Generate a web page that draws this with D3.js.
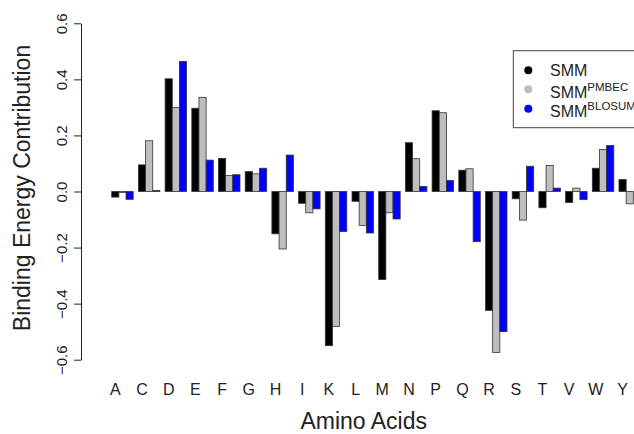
<!DOCTYPE html>
<html>
<head>
<meta charset="utf-8">
<script src="https://cdn.jsdelivr.net/npm/d3@7"></script>
<style>
  body { margin: 0; background: #fff; }
  svg { display: block; font-family: "Liberation Sans", Arial, sans-serif; }
</style>
</head>
<body>
<svg width="634" height="434"></svg>
<script>
// amino acids and the three model estimates
var aminoAcids = ["A", "C", "D", "E", "F", "G", "H", "I", "K", "L", "M", "N", "P", "Q", "R", "S", "T", "V", "W", "Y"];
var smm    = [-0.020, 0.095, 0.402, 0.297, 0.118, 0.071, -0.151, -0.042, -0.550, -0.035, -0.314, 0.174, 0.288, 0.076, -0.424, -0.026, -0.058, -0.039, 0.083, 0.043];
var pmbec  = [-0.004, 0.181, 0.300, 0.336, 0.057, 0.063, -0.205, -0.076, -0.481, -0.121, -0.076, 0.117, 0.281, 0.081, -0.574, -0.102, 0.093, 0.012, 0.150, -0.044];
var blosum = [-0.028, 0.004, 0.464, 0.112, 0.060, 0.083, 0.130, -0.062, -0.143, -0.148, -0.098, 0.018, 0.039, -0.179, -0.500, 0.090, 0.012, -0.029, 0.164, 0.000];
var seriesNames = ["SMM", "PMBEC", "BLOSUM"];
var seriesColors = ["#000000", "#bebebe", "#0000ff"];
var yTicks = [-0.6, -0.4, -0.2, 0.0, 0.2, 0.4, 0.6];

var series = [smm, pmbec, blosum];
var svg = d3.select("svg");

var step = 26.7;
var x0 = d3.scaleBand()
    .domain(aminoAcids)
    .range([111.7, 111.7 + aminoAcids.length * step - 0.195 * step])
    .paddingInner(0.195)
    .paddingOuter(0);

var x1 = d3.scaleBand()
    .domain(d3.range(series.length))
    .range([0, x0.bandwidth()]);

var y = d3.scaleLinear().domain([-0.6, 0.6]).range([359.7, 23.3]);

// bars
var groups = svg.append("g").selectAll("g")
    .data(aminoAcids)
    .enter().append("g")
    .attr("transform", function(d) { return "translate(" + x0(d) + ",0)"; });

groups.selectAll("rect")
    .data(function(d, i) {
        return series.map(function(s, j) { return { k: j, v: s[i] }; });
    })
    .enter().append("rect")
    .attr("x", function(d) { return x1(d.k); })
    .attr("width", x1.bandwidth())
    .attr("y", function(d) { return Math.min(y(d.v), y(0)); })
    .attr("height", function(d) { return Math.abs(y(d.v) - y(0)); })
    .attr("fill", function(d) { return seriesColors[d.k]; })
    .attr("stroke", "#333")
    .attr("stroke-width", 0.8);

// x labels under the first bar of each group
svg.append("g").selectAll("text")
    .data(aminoAcids)
    .enter().append("text")
    .attr("x", function(d) { return x0(d) + x1(0) + x1.bandwidth() / 2; })
    .attr("y", 395)
    .attr("text-anchor", "middle")
    .attr("font-size", 16)
    .attr("fill", "#222")
    .text(function(d) { return d; });

// y axis
var yAxis = svg.append("g")
    .attr("transform", "translate(81,0)")
    .call(d3.axisLeft(y).tickValues(yTicks).tickSize(7).tickSizeOuter(0).tickFormat(d3.format(".1f")));

yAxis.attr("font-size", 15).attr("font-family", null);
yAxis.select(".domain").attr("stroke", "#222");
yAxis.selectAll(".tick line").attr("stroke", "#222");
yAxis.selectAll(".tick text")
    .attr("x", 0).attr("y", 0).attr("dy", 0)
    .attr("text-anchor", "middle")
    .attr("transform", "translate(-14.5,0) rotate(-90)")
    .attr("fill", "#222");

// axis titles
svg.append("text")
    .attr("transform", "translate(30,188) rotate(-90)")
    .attr("text-anchor", "middle")
    .attr("font-size", 23)
    .attr("fill", "#222")
    .text("Binding Energy Contribution");

svg.append("text")
    .attr("x", 363.7)
    .attr("y", 428.5)
    .attr("text-anchor", "middle")
    .attr("font-size", 23)
    .attr("fill", "#222")
    .text("Amino Acids");

// legend
var legend = svg.append("g");
legend.append("rect")
    .attr("x", 513.3).attr("y", 50.7)
    .attr("width", 160).attr("height", 77)
    .attr("fill", "#fff")
    .attr("stroke", "#444")
    .attr("stroke-width", 1);

var legendDotY = [70.3, 89.3, 108.7];
var legendTextY = [76, 97.5, 117.3];

seriesNames.forEach(function(name, i) {
    legend.append("circle")
        .attr("cx", 528.3).attr("cy", legendDotY[i]).attr("r", 4)
        .attr("fill", seriesColors[i]);
    var t = legend.append("text")
        .attr("x", 550).attr("y", legendTextY[i])
        .attr("font-size", 16)
        .attr("fill", "#222");
    if (i === 0) {
        t.text(name);
    } else {
        t.append("tspan").text("SMM");
        t.append("tspan")
            .attr("font-size", 11.5)
            .attr("dy", -7)
            .text(name);
    }
});
</script>
</body>
</html>
